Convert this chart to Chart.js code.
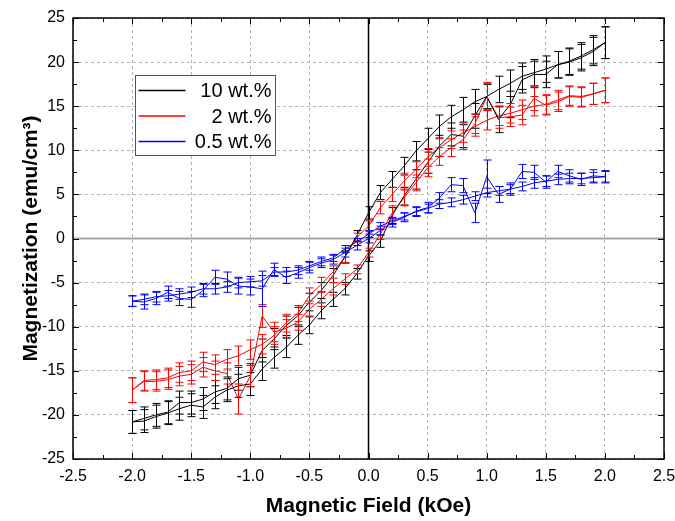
<!DOCTYPE html>
<html>
<head>
<meta charset="utf-8">
<script src="https://cdn.jsdelivr.net/npm/chart.js@4.4.1/dist/chart.umd.min.js"></script>
<style>
  html, body { margin: 0; padding: 0; background: #fff; }
</style>
</head>
<body>
<canvas id="chart" width="675" height="521"></canvas>
<script>
// Field values (kOe), shared by every sweep
var fields = [-2.0, -1.9, -1.8, -1.7, -1.6, -1.5, -1.4, -1.3, -1.2, -1.1, -1.0,
              -0.9, -0.8, -0.7, -0.6, -0.5, -0.4, -0.3, -0.2, -0.1, 0.0,
               0.1,  0.2,  0.3,  0.4,  0.5,  0.6,  0.7,  0.8,  0.9, 1.0,
               1.1,  1.2,  1.3,  1.4,  1.5,  1.6,  1.7,  1.8,  1.9, 2.0];

var labels = ['10 wt.%', '2 wt.%', '0.5 wt.%'];
var colors = ['#000000', '#ff0000', '#0000ff'];

// 10 wt.% : descending sweep (upper branch) and ascending sweep (lower branch), listed by field
var black_down = [-20.8, -20.4, -20.0, -19.7, -18.6, -18.6, -18.2, -17.4, -17.0, -15.9, -15.5,
                  -12.7, -11.4, -9.9, -8.8, -7.2, -5.9, -4.2, -2.1, 0.3, 2.9,
                   5.2, 6.7, 8.2, 9.9, 11.3, 12.7, 13.8, 14.6, 15.5, 16.1,
                   16.9, 17.6, 18.4, 18.8, 19.2, 19.7, 20.1, 20.7, 21.4, 22.2];
var black_up = [-20.8, -20.7, -20.2, -19.8, -19.3, -18.9, -19.1, -18.0, -17.2, -16.7, -16.5,
                -14.8, -13.5, -12.4, -11.0, -9.8, -8.2, -6.9, -5.7, -4.0, -2.0,
                -0.3, 2.6, 4.8, 6.7, 8.6, 10.5, 11.8, 11.6, 13.9, 16.1,
                 13.5, 15.2, 18.0, 18.6, 18.6, 19.7, 20.0, 20.5, 21.2, 22.2];
var black_err_down = [1.3, 1.3, 1.3, 1.3, 1.3, 1.3, 1.3, 1.3, 1.3, 1.3, 1.3,
                      1.3, 1.2, 1.1, 1.0, 1.0, 0.9, 0.8, 0.7, 0.6, 0.7,
                      0.8, 0.9, 1.0, 1.1, 1.2, 1.3, 1.3, 1.4, 1.4, 1.4,
                      1.5, 1.5, 1.5, 1.5, 1.5, 1.5, 1.5, 1.5, 1.6, 1.8];
var black_err_up = [1.3, 1.3, 1.3, 1.3, 1.3, 1.3, 1.3, 1.3, 1.3, 1.3, 1.3,
                    1.3, 1.2, 1.1, 1.0, 1.0, 0.9, 0.8, 0.7, 0.6, 0.6,
                    0.7, 0.9, 1.0, 1.1, 1.2, 1.2, 1.3, 1.3, 1.4, 1.4,
                    1.5, 1.5, 1.5, 1.5, 1.5, 1.5, 1.5, 1.5, 1.6, 1.8];

// 2 wt.%
var red_down = [-17.2, -16.1, -16.0, -15.8, -15.2, -15.0, -14.0, -14.3, -13.7, -13.3, -12.6,
                -12.0, -11.0, -9.6, -8.5, -6.5, -5.2, -3.8, -2.1, 0.1, 1.4,
                 3.5, 5.0, 6.5, 7.8, 9.2, 10.3, 11.2, 12.0, 12.7, 13.4,
                 13.9, 14.2, 14.6, 15.0, 15.2, 15.7, 16.2, 16.1, 16.4, 16.8];
var red_up = [-17.2, -16.2, -16.2, -16.0, -15.6, -15.4, -14.6, -15.0, -15.3, -18.2, -15.6,
              -8.8, -10.6, -10.2, -9.5, -8.0, -6.9, -5.7, -4.6, -3.5, -1.6,
               0.5, 2.9, 4.6, 6.3, 8.0, 9.3, 10.3, 11.2, 13.0, 16.1,
               13.7, 13.8, 14.0, 15.9, 15.1, 15.5, 16.1, 16.0, 16.4, 16.8];
var red_err_down = [1.4, 1.1, 1.1, 1.1, 1.1, 1.1, 1.1, 1.1, 1.1, 1.1, 1.1,
                    1.1, 1.0, 1.0, 0.9, 0.9, 0.8, 0.7, 0.6, 0.5, 0.6,
                    0.7, 0.8, 0.9, 0.9, 1.0, 1.0, 1.0, 1.1, 1.1, 1.1,
                    1.1, 1.1, 1.1, 1.1, 1.1, 1.1, 1.1, 1.1, 1.2, 1.4];
var red_err_up = [1.4, 1.1, 1.1, 1.1, 1.1, 1.1, 1.1, 1.1, 1.2, 1.7, 1.2,
                  1.3, 1.1, 1.0, 0.9, 0.9, 0.8, 0.7, 0.6, 0.5, 0.5,
                  0.6, 0.8, 0.9, 0.9, 1.0, 1.0, 1.0, 1.1, 1.1, 1.6,
                  1.2, 1.1, 1.1, 1.4, 1.1, 1.1, 1.1, 1.1, 1.2, 1.4];

// 0.5 wt.%
var blue_down = [-7.1, -6.9, -6.6, -6.5, -6.3, -6.1, -5.7, -5.7, -5.5, -5.0, -4.9,
                 -4.8, -3.8, -3.8, -3.6, -3.1, -2.6, -2.2, -1.2, -0.4, 0.5,
                  1.4, 2.0, 2.5, 3.0, 3.4, 3.9, 4.1, 4.4, 4.8, 5.2,
                  5.4, 5.6, 5.9, 6.3, 6.5, 6.7, 6.8, 6.8, 6.9, 7.0];
var blue_up = [-7.1, -7.2, -6.8, -6.1, -6.8, -6.9, -5.9, -4.4, -4.6, -5.4, -5.5,
               -5.7, -3.5, -4.4, -3.9, -3.3, -2.8, -2.4, -1.6, -0.8, 0.0,
                0.9, 1.8, 2.4, 3.1, 3.5, 4.6, 6.1, 6.0, 2.9, 7.0,
                5.0, 5.6, 7.6, 7.5, 6.4, 7.6, 7.1, 6.7, 7.1, 7.0];
var blue_err_down = [0.6, 0.6, 0.6, 0.6, 0.6, 0.6, 0.6, 0.6, 0.6, 0.6, 0.6,
                     0.6, 0.5, 0.5, 0.5, 0.5, 0.5, 0.4, 0.4, 0.4, 0.4,
                     0.4, 0.4, 0.4, 0.5, 0.5, 0.5, 0.5, 0.5, 0.5, 0.5,
                     0.5, 0.5, 0.5, 0.6, 0.6, 0.6, 0.6, 0.6, 0.6, 0.6];
var blue_err_up = [0.6, 0.8, 0.7, 0.7, 0.8, 0.9, 0.7, 0.8, 0.8, 0.9, 0.9,
                   2.0, 0.7, 0.7, 0.6, 0.6, 0.5, 0.5, 0.5, 0.5, 0.5,
                   0.5, 0.5, 0.5, 0.5, 0.6, 0.6, 0.8, 0.8, 1.1, 1.9,
                   0.9, 0.7, 0.8, 0.8, 0.7, 0.7, 0.7, 0.7, 0.7, 0.7];

// one loop per sample: sweep down from +2 kOe, then back up
function buildLoop(down, up, errDown, errUp) {
    var pts = [];
    for (var i = fields.length - 1; i >= 0; i--) {
        pts.push({ x: fields[i], y: down[i], err: errDown[i] });
    }
    for (var j = 0; j < fields.length; j++) {
        pts.push({ x: fields[j], y: up[j], err: errUp[j] });
    }
    return pts;
}

var loops = [
    buildLoop(black_down, black_up, black_err_down, black_err_up),
    buildLoop(red_down, red_up, red_err_down, red_err_up),
    buildLoop(blue_down, blue_up, blue_err_down, blue_err_up)
];

var FONT = "'Liberation Sans', Arial, sans-serif";

var decorations = {
    id: 'decorations',
    beforeDatasetsDraw: function(chart) {
        var ctx = chart.ctx, area = chart.chartArea;
        var xs = chart.scales.x, ys = chart.scales.y;
        ctx.save();
        // zero field / zero magnetization lines
        var y0 = ys.getPixelForValue(0);
        ctx.strokeStyle = '#a6a6a6';
        ctx.lineWidth = 2;
        ctx.beginPath();
        ctx.moveTo(area.left, y0);
        ctx.lineTo(area.right, y0);
        ctx.stroke();
        var x0 = xs.getPixelForValue(0);
        ctx.strokeStyle = '#000';
        ctx.lineWidth = 1.5;
        ctx.beginPath();
        ctx.moveTo(x0, area.top);
        ctx.lineTo(x0, area.bottom);
        ctx.stroke();
        ctx.restore();
    },
    afterDatasetsDraw: function(chart) {
        var ctx = chart.ctx;
        var xs = chart.scales.x, ys = chart.scales.y;
        ctx.save();
        ctx.lineWidth = 1;
        chart.data.datasets.forEach(function(ds) {
            ctx.strokeStyle = ds.borderColor;
            ds.data.forEach(function(p) {
                var px = Math.round(xs.getPixelForValue(p.x)) + 0.5;
                var yt = ys.getPixelForValue(p.y + p.err);
                var yb = ys.getPixelForValue(p.y - p.err);
                ctx.beginPath();
                ctx.moveTo(px, yt);
                ctx.lineTo(px, yb);
                ctx.moveTo(px - 4, yt);
                ctx.lineTo(px + 4, yt);
                ctx.moveTo(px - 4, yb);
                ctx.lineTo(px + 4, yb);
                ctx.stroke();
            });
        });
        ctx.restore();
    },
    afterDraw: function(chart) {
        var ctx = chart.ctx, a = chart.chartArea;
        var xs = chart.scales.x, ys = chart.scales.y;
        ctx.save();
        ctx.strokeStyle = '#000';
        ctx.lineWidth = 1;

        // inward ticks on all four sides, minor ones halfway between majors
        function xTick(v, len) {
            var px = Math.round(xs.getPixelForValue(v)) + 0.5;
            ctx.moveTo(px, a.bottom); ctx.lineTo(px, a.bottom - len);
            ctx.moveTo(px, a.top); ctx.lineTo(px, a.top + len);
        }
        function yTick(v, len) {
            var py = Math.round(ys.getPixelForValue(v)) + 0.5;
            ctx.moveTo(a.left, py); ctx.lineTo(a.left + len, py);
            ctx.moveTo(a.right, py); ctx.lineTo(a.right - len, py);
        }
        ctx.beginPath();
        xs.ticks.forEach(function(t, i) {
            xTick(t.value, 6);
            if (i > 0) xTick((t.value + xs.ticks[i - 1].value) / 2, 4);
        });
        ys.ticks.forEach(function(t, i) {
            yTick(t.value, 6);
            if (i > 0) yTick((t.value + ys.ticks[i - 1].value) / 2, 4);
        });
        ctx.stroke();

        // plot frame
        ctx.lineWidth = 1.5;
        ctx.strokeRect(a.left, a.top, a.right - a.left, a.bottom - a.top);

        // legend box
        var lx = 135.5, ly = 75.5, lw = 140, lh = 80;
        ctx.lineWidth = 1;
        ctx.strokeStyle = '#555';
        ctx.fillStyle = '#fff';
        ctx.fillRect(lx, ly, lw, lh);
        ctx.strokeRect(lx, ly, lw, lh);
        ctx.font = '20px ' + FONT;
        ctx.textAlign = 'right';
        ctx.textBaseline = 'middle';
        chart.data.datasets.forEach(function(ds, i) {
            var rowY = ly + 15 + i * 25.5;
            ctx.strokeStyle = ds.borderColor;
            ctx.lineWidth = 1.5;
            ctx.beginPath();
            ctx.moveTo(lx + 3, rowY);
            ctx.lineTo(lx + 50, rowY);
            ctx.stroke();
            ctx.fillStyle = '#000';
            ctx.fillText(ds.label, lx + lw - 4, rowY + 1);
        });
        ctx.restore();
    }
};

var datasets = loops.map(function(pts, i) {
    return {
        label: labels[i],
        data: pts,
        showLine: true,
        borderColor: colors[i],
        backgroundColor: colors[i],
        borderWidth: 1,
        pointRadius: 0,
        tension: 0
    };
});

new Chart(document.getElementById('chart').getContext('2d'), {
    type: 'scatter',
    data: { datasets: datasets },
    options: {
        responsive: false,
        animation: false,
        layout: { padding: { left: 0, right: 11, top: 18, bottom: 0 } },
        plugins: {
            legend: { display: false },
            tooltip: { enabled: false }
        },
        scales: {
            x: {
                type: 'linear',
                min: -2.5,
                max: 2.5,
                afterFit: function(scale) {
                    scale.height = 62;
                    scale.paddingLeft = 0;
                    scale.paddingRight = 0;
                },
                ticks: {
                    stepSize: 0.5,
                    padding: 8,
                    color: '#000',
                    maxRotation: 0,
                    font: { family: FONT, size: 16 },
                    callback: function(v) { return Number(v).toFixed(1); }
                },
                grid: { color: '#b4b4b4', drawTicks: false },
                border: { display: false, dash: [3, 3] },
                title: {
                    display: true,
                    text: 'Magnetic Field (kOe)',
                    color: '#000',
                    font: { family: FONT, size: 21, weight: 'bold' },
                    padding: { top: 0, bottom: 2 }
                }
            },
            y: {
                type: 'linear',
                min: -25,
                max: 25,
                afterFit: function(scale) {
                    scale.width = 73;
                    scale.paddingTop = 0;
                    scale.paddingBottom = 0;
                },
                ticks: {
                    stepSize: 5,
                    padding: 8,
                    color: '#000',
                    font: { family: FONT, size: 16 }
                },
                grid: { color: '#b4b4b4', drawTicks: false },
                border: { display: false, dash: [3, 3] },
                title: {
                    display: true,
                    text: 'Magnetization (emu/cm³)',
                    color: '#000',
                    font: { family: FONT, size: 21, weight: 'bold' },
                    padding: { top: 19, bottom: 0 }
                }
            }
        }
    },
    plugins: [decorations]
});
</script>
</body>
</html>
